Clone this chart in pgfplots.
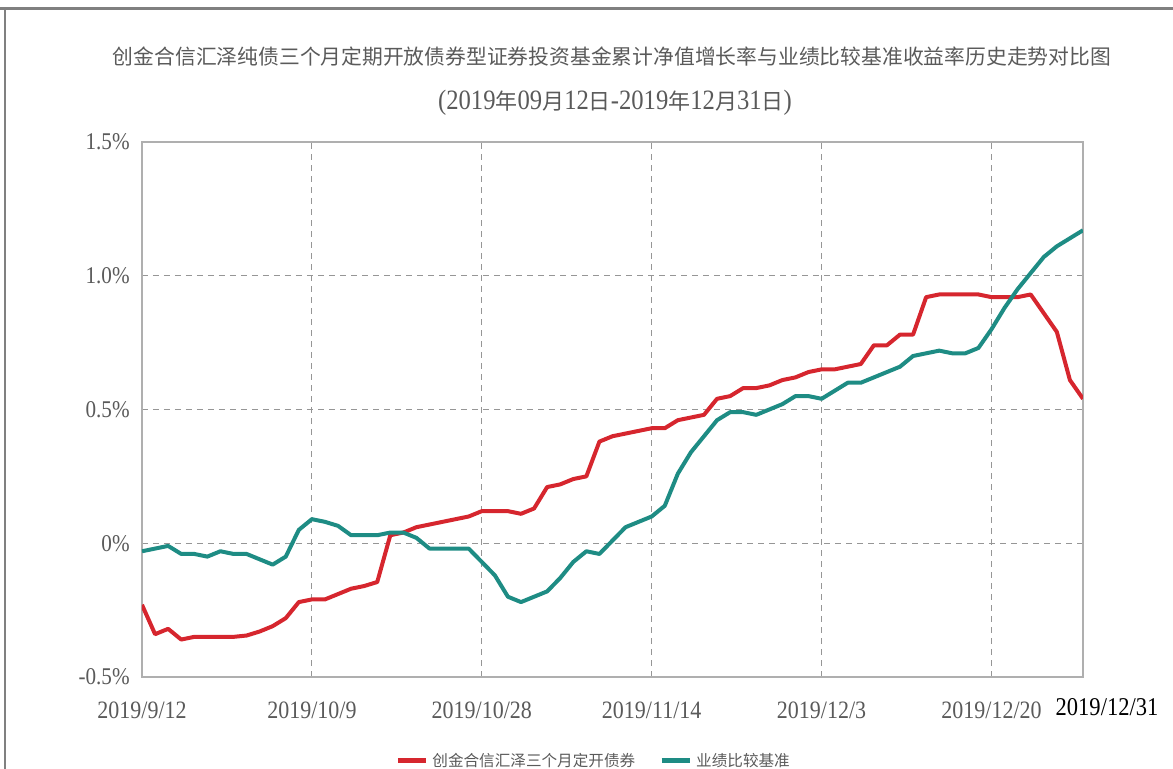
\documentclass[border=0pt]{standalone}
\usepackage{fontspec}
\setmainfont{Liberation Serif}[FakeStretch=0.88]
\newfontfamily\cjk{Noto Sans CJK SC}
\usepackage{pgfplots}
\pgfplotsset{compat=1.18}
\definecolor{redline}{RGB}{214,38,46}
\definecolor{tealline}{RGB}{30,140,132}
\definecolor{txtgray}{RGB}{90,90,90}
\definecolor{gridgray}{RGB}{150,150,150}
\definecolor{framegray}{RGB}{175,175,175}
\pgfplotstableread{
i fund bench
0 -0.23 -0.03
1 -0.34 -0.02
2 -0.32 -0.01
3 -0.36 -0.04
4 -0.35 -0.04
5 -0.35 -0.05
6 -0.35 -0.03
7 -0.35 -0.04
8 -0.345 -0.04
9 -0.33 -0.06
10 -0.31 -0.08
11 -0.28 -0.05
12 -0.22 0.05
13 -0.21 0.09
14 -0.21 0.08
15 -0.19 0.065
16 -0.17 0.03
17 -0.16 0.03
18 -0.145 0.03
19 0.03 0.04
20 0.04 0.04
21 0.06 0.02
22 0.07 -0.02
23 0.08 -0.02
24 0.09 -0.02
25 0.10 -0.02
26 0.12 -0.07
27 0.12 -0.12
28 0.12 -0.20
29 0.11 -0.22
30 0.13 -0.20
31 0.21 -0.18
32 0.22 -0.13
33 0.24 -0.07
34 0.25 -0.03
35 0.38 -0.04
36 0.40 0.01
37 0.41 0.06
38 0.42 0.08
39 0.43 0.10
40 0.43 0.14
41 0.46 0.26
42 0.47 0.34
43 0.48 0.40
44 0.54 0.46
45 0.55 0.49
46 0.58 0.49
47 0.58 0.48
48 0.59 0.50
49 0.61 0.52
50 0.62 0.55
51 0.64 0.55
52 0.65 0.54
53 0.65 0.57
54 0.66 0.60
55 0.67 0.60
56 0.74 0.62
57 0.74 0.64
58 0.78 0.66
59 0.78 0.70
60 0.92 0.71
61 0.93 0.72
62 0.93 0.71
63 0.93 0.71
64 0.93 0.73
65 0.92 0.80
66 0.92 0.88
67 0.92 0.95
68 0.93 1.01
69 0.86 1.07
70 0.79 1.11
71 0.61 1.14
72 0.54 1.17
}\datatable
\begin{document}
\begin{tikzpicture}
\begin{axis}[
  width=470.5pt, height=267.5pt, scale only axis,
  xmin=0, xmax=72, ymin=-0.5, ymax=1.5,
  xtick={0,13,26,39,52,65,72},
  xticklabels={2019/9/12,2019/10/9,2019/10/28,2019/11/14,2019/12/3,2019/12/20,{}},
  ytick={-0.5,0,0.5,1,1.5},
  yticklabels={-0.5\%,0\%,0.5\%,1.0\%,1.5\%},
  major tick length=0pt,
  axis line style={draw=framegray, line width=0.8pt},
  grid=major,
  major grid style={draw=gridgray, line width=0.5pt, dash pattern=on 3pt off 2.5pt},
  xticklabel style={font=\fontsize{12.5pt}{14pt}\selectfont, text=txtgray, inner sep=0pt, anchor=north, yshift=-12.3pt},
  yticklabel style={font=\fontsize{12pt}{14pt}\selectfont, text=txtgray, inner sep=0pt, anchor=east, xshift=-6pt},
  legend columns=2,
  legend style={draw=none, fill=none, at={(0.481,-0.157)}, anchor=center,
    font=\cjk\fontsize{7.8pt}{9pt}\selectfont, text=txtgray,
    /tikz/every even column/.append style={column sep=10pt}},
  legend image code/.code={\draw[#1, line width=2.5pt] (0pt,0pt) -- (14pt,0pt);},
]
\addplot[redline, line width=2pt, line join=round] table[x=i, y=fund] {\datatable};
\addlegendentry{创金合信汇泽三个月定开债券}
\addplot[tealline, line width=2pt, line join=round] table[x=i, y=bench] {\datatable};
\addlegendentry{业绩比较基准}
\end{axis}
\node[anchor=north, inner sep=0pt, text=black, font=\fontsize{12.8pt}{14pt}\selectfont] at (482.5pt,-10.5pt) {2019/12/31};
\node[text=txtgray, font=\cjk\fontsize{10.4pt}{13pt}\selectfont] at (235pt,310pt) {创金合信汇泽纯债三个月定期开放债券型证券投资基金累计净值增长率与业绩比较基准收益率历史走势对比图};
\node[text=txtgray, font=\fontsize{14pt}{16pt}\selectfont] at (236.5pt,287pt) {(2019{\cjk\fontsize{11pt}{13pt}\selectfont 年}09{\cjk\fontsize{11pt}{13pt}\selectfont 月}12{\cjk\fontsize{11pt}{13pt}\selectfont 日}-2019{\cjk\fontsize{11pt}{13pt}\selectfont 年}12{\cjk\fontsize{11pt}{13pt}\selectfont 月}31{\cjk\fontsize{11pt}{13pt}\selectfont 日})};
\draw[draw=gray, line width=1.5pt] (-71pt,334pt) -- (515.5pt,334pt);
\draw[draw=gray, line width=1pt] (-68.5pt,334pt) -- (-68.5pt,-46pt);
\pgfresetboundingbox
\useasboundingbox (-71pt,-46pt) rectangle (515.5pt,338.5pt);
\end{tikzpicture}
\end{document}
